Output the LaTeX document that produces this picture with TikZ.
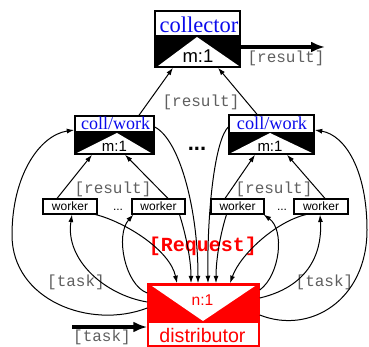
\documentclass[tikz,border=0pt]{standalone}
\usepackage{fontspec}
\setmainfont{Liberation Serif}
\setsansfont{Liberation Sans}
\setmonofont{Liberation Mono}
\usetikzlibrary{arrows.meta,calc}
\definecolor{lblgray}{RGB}{95,95,95}
\definecolor{myblue}{RGB}{10,10,235}
\definecolor{myred}{RGB}{255,0,0}
\begin{document}
\begin{tikzpicture}[x=1pt,y=-1pt,
  bigbox/.style={draw,line width=1.5pt,inner sep=0pt},
  wbox/.style={draw,line width=1.1pt,inner sep=0pt,minimum height=15pt,font=\sffamily\fontsize{12}{12}\selectfont},
  conn/.style={line width=1pt,-{Latex[length=7.5pt,width=5pt]}},
  fatarrow/.style={line width=3.5pt,-{Latex[length=14pt,width=11pt]}},
  lbl/.style={font=\ttfamily\fontsize{16}{16}\selectfont,text=lblgray,inner sep=0pt},
  serifttl/.style={font=\rmfamily\fontsize{#1}{#1}\selectfont,text=myblue,inner sep=0pt,anchor=base},
  sanstxt/.style={font=\sffamily\fontsize{#1}{#1}\selectfont,inner sep=0pt,anchor=base},
  dots/.style={font=\sffamily\bfseries\fontsize{#1}{#1}\selectfont,inner sep=0pt,anchor=base}]
\useasboundingbox (0,0) rectangle (369,347);

% ---- interior fills ----
\fill[black] (155,35) rectangle (240,67);
\fill[white] (158,66) -- (197,37) -- (239,66) -- cycle;
\fill[black] (75,131) rectangle (154,154);
\fill[white] (77,153) -- (117,133) -- (151,153) -- cycle;
\fill[black] (229,132) rectangle (314,154);
\fill[white] (231,153) -- (270,133) -- (312,153) -- cycle;
\fill[myred] (148,284) rectangle (259,323);
\fill[white] (152,286) -- (255,286) -- (203,321) -- cycle;

% ---- boxes ----
\node[bigbox,minimum width=85pt,minimum height=56pt] (coll) at (197.5,39) {};
\node[bigbox,minimum width=79pt,minimum height=38pt] (cwL) at (114.5,135) {};
\node[bigbox,minimum width=85pt,minimum height=39pt] (cwR) at (271.5,134.5) {};
\node[bigbox,draw=myred,minimum width=111pt,minimum height=62pt] (dist) at (203.5,315) {};
\node[wbox,minimum width=54pt] (w1) at (70,206.5) {worker};
\node[wbox,minimum width=53pt] (w2) at (158.5,206.5) {worker};
\node[wbox,minimum width=53pt] (w3) at (237.5,206.5) {worker};
\node[wbox,minimum width=54pt] (w4) at (321,206.5) {worker};

% ---- box texts ----
\node[serifttl=22.5] (colltxt) at (199,33) {collector};
\node[sanstxt=18.5] (collm) at (198,63) {m:1};
\node[serifttl=18] (cwLtxt) at (115.5,130) {coll/work};
\node[sanstxt=15] (cwLm) at (114.5,152) {m:1};
\node[serifttl=18.3] (cwRtxt) at (272,130) {coll/work};
\node[sanstxt=15] (cwRm) at (270,152) {m:1};
\node[sanstxt=15.6,text=myred] (distn) at (202.5,305) {n:1};
\node[sanstxt=19.6,text=myred] (disttxt) at (202.5,342) {distributor};

% ---- dots ----
\node[dots=22] (dotsTop) at (197,151) {...};
\node[sanstxt=12] (dotsL) at (118,210.5) {...};
\node[sanstxt=12] (dotsR) at (282,210.5) {...};

% ---- labels ----
\node[lbl] (resTop) at (201,102) {[result]};
\node[lbl] (resOut) at (286,58) {[result]};
\node[lbl] (resL) at (113,189) {[result]};
\node[lbl] (resR) at (274,189) {[result]};
\node[lbl] (taskL) at (76,282.5) {[task]};
\node[lbl] (taskR) at (324.5,282.5) {[task]};
\node[lbl] (taskIn) at (102,337.5) {[task]};
\node[font=\ttfamily\bfseries\fontsize{20}{20}\selectfont,text=myred,inner sep=0pt] (req) at (203,246) {[Request]};

% ---- fat in/out arrows ----
\coordinate (inStart) at (72,327);
\coordinate (outEnd) at (325,47);
\draw[fatarrow] (inStart) -- ($(dist.west)+(0,12)$);
\draw[fatarrow] ($(coll.east)+(0,8)$) -- (outEnd);

% ---- results up ----
\draw[conn] ($(cwL.north)+(24.5,0)$) -- ($(coll.south)+(-24.5,0)$);
\draw[conn] ($(cwR.north)+(-14.5,0)$) -- ($(coll.south)+(20.5,0)$);
\draw[conn] ($(w1.north)+(-13,0)$) -- ($(cwL.south)+(-22.5,0)$);
\draw[conn] ($(w2.north)+(9.5,0)$) -- ($(cwL.south)+(10.5,0)$);
\draw[conn] ($(w3.north)+(-12.5,0)$) -- ($(cwR.south)+(-16.5,0)$);
\draw[conn] ($(w4.north)+(4,0)$) -- ($(cwR.south)+(15.5,0)$);

% ---- requests down to distributor ----
\draw[conn] ($(w1.south east)+(-2,0)$) .. controls (125,222) and (170,250) .. ($(dist.north)+(-26.5,0)$);
\draw[conn] ($(w2.south)+(21,0)$) .. controls (186,235) and (191,260) .. ($(dist.north)+(-12.5,0)$);
\draw[conn] ($(cwL.east)+(0,-8)$) .. controls (180,140) and (198,210) .. ($(dist.north)+(-5.5,0)$);
\draw[conn] ($(cwR.west)+(0,-7.5)$) .. controls (215,140) and (207,210) .. ($(dist.north)+(4.5,0)$);
\draw[conn] ($(w3.south)+(-11,0)$) .. controls (220,235) and (216,260) .. ($(dist.north)+(12.5,0)$);
\draw[conn] ($(w4.south)+(-15,0)$) .. controls (275,222) and (240,255) .. ($(dist.north)+(26.5,0)$);

% ---- tasks out of distributor ----
\draw[conn] ($(dist.west)+(0,-13)$) .. controls (105,295) and (65,260) .. ($(w1.south)+(2,0)$);
\draw[conn] ($(dist.west)+(0,-22)$) .. controls (125,285) and (115,235) .. ($(w2.south west)+(2,0)$);
\draw[conn] ($(dist.east)+(0,-25)$) .. controls (280,275) and (285,230) .. ($(w3.south east)+(-1,0)$);
\draw[conn] ($(dist.east)+(0,-17)$) .. controls (315,285) and (322,245) .. ($(w4.south)+(-1,0)$);

% ---- big loops ----
\draw[conn] ($(dist.west)+(0,-7)$) .. controls (90,330) and (12,300) .. (12,235)
   .. controls (12,175) and (40,135) .. ($(cwL.west)+(0,-5)$);
\draw[conn] (dist.east) .. controls (310,335) and (367,300) .. (367,230)
   .. controls (367,170) and (345,135) .. ($(cwR.east)+(0,-4.5)$);
\end{tikzpicture}
\end{document}
